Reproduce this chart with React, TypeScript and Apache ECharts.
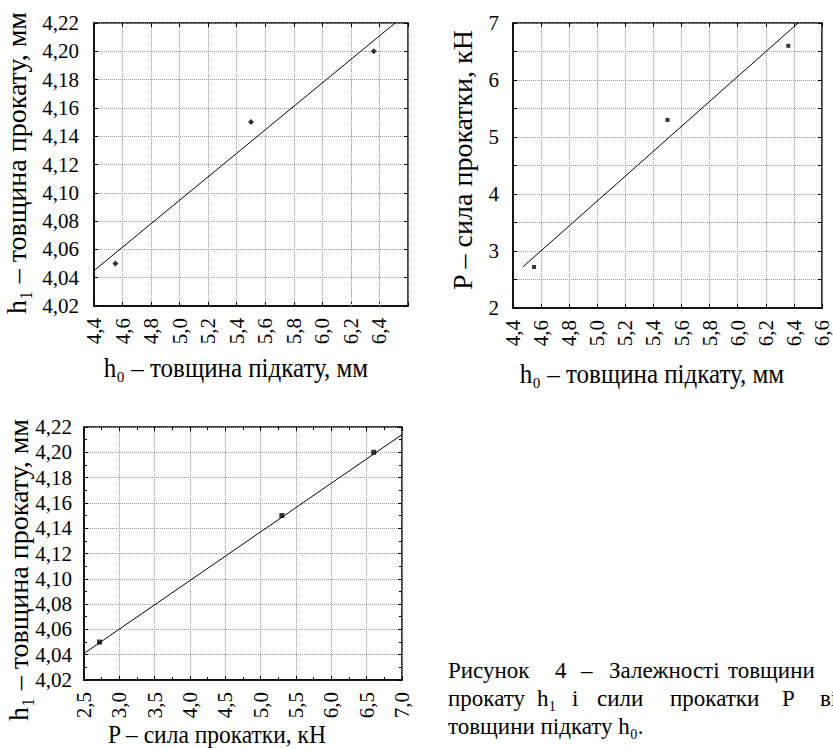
import React, { useEffect, useRef } from "react";
import * as echarts from "echarts";

// ---- data ----
const h0Values = [4.55, 5.5, 6.36]; // товщина підкату, мм
const h1Values = [4.05, 4.15, 4.2]; // товщина прокату, мм
const pValues = [2.72, 5.3, 6.6]; // сила прокатки, кН

// regression lines (end points)
const fitH1vsH0X = [4.4, 6.51];
const fitH1vsH0Y = [4.045, 4.22];
const fitPvsH0X = [4.47, 6.43];
const fitPvsH0Y = [2.72, 7.0];
const fitH1vsPX = [2.5, 7.0];
const fitH1vsPY = [4.041, 4.214];

// axis ranges
const h0Range = [4.4, 6.6, 0.2];
const h1Range = [4.02, 4.22, 0.02];
const pYRange = [2, 7, 0.5];
const pXRange = [2.5, 7.0, 0.5];

// texts
const titleH1 = "h₁ – товщина прокату, мм";
const titleH0 = "h₀ – товщина підкату, мм";
const titleP = "P – сила прокатки, кН";
const captionLine1 = ["Рисунок", "4", "–", "Залежності", "товщини"];
const captionLine2 = ["прокату", "h₁", "і", "сили", "прокатки", "P", "від"];
const captionLine3 = ["товщини підкату h₀."];

const FONT = "Liberation Serif";

const comma = (v: number, d: number) => v.toFixed(d).replace(".", ",");

const gridLine = { show: true, lineStyle: { color: "#9a9a9a", type: "dotted", width: 1 } };
const tickStyle = { show: true, inside: true, length: 4, lineStyle: { color: "#000" } };

function makeXAxis(gridIndex: number, range: number[], formatter: (v: number) => string, minor = false) {
  return {
    type: "value",
    gridIndex,
    min: range[0],
    max: range[1],
    interval: range[2],
    axisLine: { show: true, onZero: false, lineStyle: { color: "#000", width: 1.5 } },
    axisTick: tickStyle,
    minorTick: { show: minor, splitNumber: 2, length: 3, lineStyle: { color: "#000" } },
    splitLine: gridLine,
    axisLabel: { rotate: 90, margin: 12, fontSize: 21, fontFamily: FONT, color: "#000", formatter },
  };
}

function makeYAxis(gridIndex: number, range: number[], formatter: (v: number) => string, margin: number, minor = false) {
  return {
    type: "value",
    gridIndex,
    min: range[0],
    max: range[1],
    interval: range[2],
    axisLine: { show: true, onZero: false, lineStyle: { color: "#000", width: 1.5 } },
    axisTick: tickStyle,
    minorTick: { show: minor, splitNumber: 2, length: 3, lineStyle: { color: "#000" } },
    splitLine: gridLine,
    axisLabel: { margin, fontSize: 21, fontFamily: FONT, color: "#000", formatter },
  };
}

// tick-only axes on the top and right frame edges
function frameAxis(gridIndex: number, range: number[], position: string, minor = false) {
  return {
    type: "value",
    gridIndex,
    position,
    min: range[0],
    max: range[1],
    interval: range[2],
    axisLine: { show: false },
    axisTick: tickStyle,
    minorTick: { show: minor, splitNumber: 2, length: 3, lineStyle: { color: "#000" } },
    splitLine: { show: false },
    axisLabel: { show: false },
  };
}

function hTitle(text: string, cx: number, baseline: number, fs: number, sy: number) {
  return {
    type: "text",
    x: cx,
    y: baseline - 0.34 * fs * sy,
    scaleY: sy,
    silent: true,
    style: { text, x: 0, y: 0, align: "center", verticalAlign: "middle", fontSize: fs, fontFamily: FONT, fill: "#000" },
  };
}

function vTitle(text: string, baselineX: number, cy: number, fs: number) {
  return {
    type: "text",
    x: baselineX - 0.34 * fs,
    y: cy,
    rotation: Math.PI / 2,
    silent: true,
    style: { text, x: 0, y: 0, align: "center", verticalAlign: "middle", fontSize: fs, fontFamily: FONT, fill: "#000" },
  };
}

function word(text: string, x: number, baseline: number, fs: number) {
  return {
    type: "text",
    x,
    y: baseline - 0.34 * fs,
    silent: true,
    style: { text, x: 0, y: 0, align: "left", verticalAlign: "middle", fontSize: fs, fontFamily: FONT, fill: "#000" },
  };
}

export default function App() {
  const ref = useRef<HTMLDivElement>(null);

  useEffect(() => {
    if (!ref.current) return;
    const chart = echarts.init(ref.current, null, { renderer: "svg" });

    const pts = (xs: number[], ys: number[]) => xs.map((x, i) => [x, ys[i]]);

    const capFs = 23;
    const line1X = [448, 555, 581, 609, 728];
    const line2X = [448, 537, 572, 597, 670, 782, 820];

    const graphic: any[] = [
      vTitle(titleH1, 26, 163, 28),
      hTitle(titleH0, 236, 377, 25, 1.1),
      vTitle(titleP, 472, 160, 28),
      hTitle(titleH0, 652, 383, 25, 1.1),
      vTitle(titleH1, 28, 570, 28),
      hTitle(titleP, 217, 743, 23.5, 1.08),
      ...captionLine1.map((w, i) => word(w, line1X[i], 678, capFs)),
      ...captionLine2.map((w, i) => word(w, line2X[i], 706, capFs)),
      ...captionLine3.map((w) => word(w, 448, 734, capFs)),
    ];

    const gridBase = {
      show: true,
      borderColor: "#000",
      borderWidth: 1.5,
      backgroundColor: "#fff",
      containLabel: false,
      outerBoundsMode: "none",
    };

    const intLabel = (v: number) => (Math.abs(v - Math.round(v)) < 1e-6 ? String(Math.round(v)) : "");

    chart.setOption({
      animation: false,
      backgroundColor: "#fff",
      grid: [
        { ...gridBase, left: 94, top: 23, width: 314, height: 283 },
        { ...gridBase, left: 513, top: 23, width: 309, height: 285 },
        { ...gridBase, left: 84, top: 427, width: 318, height: 253 },
      ],
      xAxis: [
        makeXAxis(0, h0Range, (v) => (Math.abs(v - 6.6) < 1e-6 ? "" : comma(v, 1))),
        makeXAxis(1, h0Range, (v) => comma(v, 1)),
        makeXAxis(2, pXRange, (v) => comma(v, 1), true),
        frameAxis(0, h0Range, "top"),
        frameAxis(1, h0Range, "top"),
        frameAxis(2, pXRange, "top", true),
      ],
      yAxis: [
        makeYAxis(0, h1Range, (v) => comma(v, 2), 15),
        makeYAxis(1, pYRange, intLabel, 14),
        makeYAxis(2, h1Range, (v) => comma(v, 2), 12, true),
        frameAxis(0, h1Range, "right"),
        frameAxis(1, pYRange, "right"),
        frameAxis(2, h1Range, "right", true),
      ],
      graphic,
      series: [
        {
          type: "line",
          xAxisIndex: 0,
          yAxisIndex: 0,
          data: pts(fitH1vsH0X, fitH1vsH0Y),
          showSymbol: false,
          lineStyle: { color: "#000", width: 1 },
          markLine: {
            silent: true,
            symbol: "none",
            label: { show: false },
            lineStyle: { color: "#b5b5b5", type: [9, 7], width: 1 },
            data: [
              [{ coord: [6.2, 4.18] }, { coord: [6.2, 4.02] }],
              [{ coord: [6.4, 4.18] }, { coord: [6.4, 4.02] }],
            ],
          },
        },
        {
          type: "scatter",
          xAxisIndex: 0,
          yAxisIndex: 0,
          data: pts(h0Values, h1Values),
          symbol: "diamond",
          symbolSize: 6,
          itemStyle: { color: "#000" },
        },
        {
          type: "line",
          xAxisIndex: 1,
          yAxisIndex: 1,
          data: pts(fitPvsH0X, fitPvsH0Y),
          showSymbol: false,
          lineStyle: { color: "#000", width: 1 },
        },
        {
          type: "scatter",
          xAxisIndex: 1,
          yAxisIndex: 1,
          data: pts(h0Values, pValues),
          symbol: "rect",
          symbolSize: 4,
          itemStyle: { color: "#000" },
        },
        {
          type: "line",
          xAxisIndex: 2,
          yAxisIndex: 2,
          data: pts(fitH1vsPX, fitH1vsPY),
          showSymbol: false,
          lineStyle: { color: "#000", width: 1 },
        },
        {
          type: "scatter",
          xAxisIndex: 2,
          yAxisIndex: 2,
          data: pts(pValues, h1Values),
          symbol: "rect",
          symbolSize: 5,
          itemStyle: { color: "#000" },
        },
      ],
    });

    return () => chart.dispose();
  }, []);

  return <div ref={ref} style={{ position: "absolute", left: 0, top: 0, width: 833, height: 748 }} />;
}
